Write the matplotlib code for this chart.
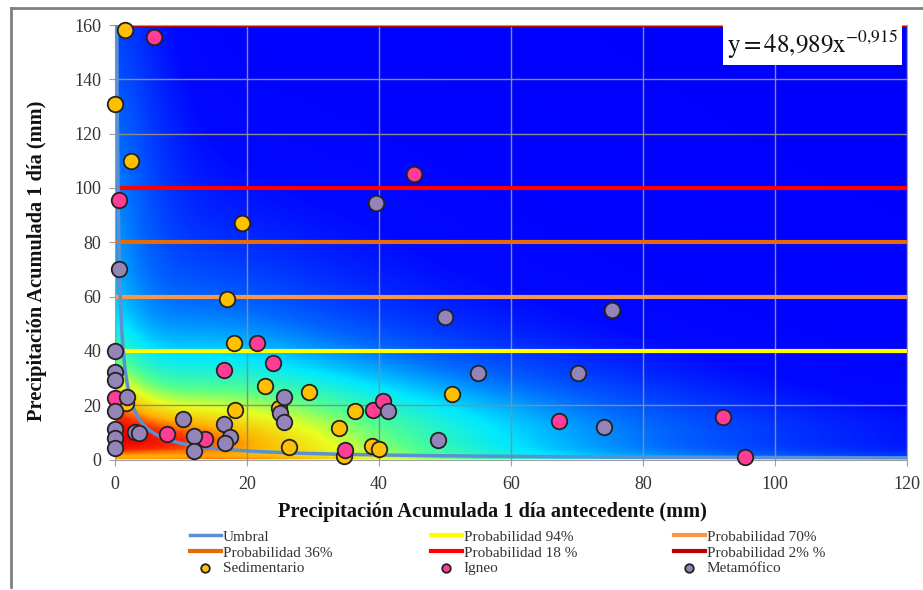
import numpy as np
import matplotlib
matplotlib.use("Agg")
import matplotlib.pyplot as plt
from matplotlib.colors import LinearSegmentedColormap
from matplotlib.lines import Line2D

# Datos
sed_x = [1.5, 0.0, 2.4, 19.2, 17.0, 18.0, 22.7, 18.2, 29.4, 26.4, 36.4, 34.0, 34.7, 39.0, 40.0, 51.0, 1.7, 24.9]
sed_y = [158, 131, 110, 87, 59, 43, 27, 18.3, 25, 4.6, 18, 11.6, 1.3, 5, 4, 24, 20.9, 19]

ign_x = [5.9, 0.6, 45.3, 21.5, 24.0, 16.5, 0.0, 7.9, 13.6, 39.1, 40.6, 34.8, 67.3, 92.1, 95.5]
ign_y = [155.7, 95.4, 105, 43, 35.4, 33, 22.8, 9.4, 7.6, 18.3, 21.6, 3.5, 14.3, 15.7, 1.0]

met_x = [39.5, 50.0, 75.3, 55.0, 70.2, 74.1, 48.9, 41.4, 0.6, 0, 0, 0, 0, 0, 0, 0,
         1.8, 3.0, 3.6, 10.3, 12.0, 12.0, 16.5, 17.4, 16.7, 25.6, 25.0, 25.6]
met_y = [94.3, 52.4, 55, 32, 31.7, 12, 7.2, 18, 70.2, 40, 32.1, 29.4, 18, 11.3, 8, 4.3,
         23.1, 10.2, 9.8, 15, 8.7, 3.1, 13.1, 8.3, 6.1, 23.1, 17.2, 13.9]

# Umbral y = a x^b
a_coef = 48.989
b_coef = -0.915

prob_labels = ["Probabilidad 94%", "Probabilidad 70%", "Probabilidad 36%", "Probabilidad 18 %", "Probabilidad 2% %"]
prob_values = [40, 60, 80, 100, 160]
prob_colors = ["#ffff00", "#f79646", "#e36c09", "#ff0000", "#c00000"]

W, H = 923, 590
fig = plt.figure(figsize=(W / 100, H / 100), dpi=100)
ax = fig.add_axes([115 / W, 1 - 459.5 / H, 792 / W, 434.5 / H])

# marco exterior
fig.add_artist(Line2D([11 / W, 11 / W], [3 / H, 1 - 8 / H], transform=fig.transFigure, color="#808080", lw=2))
fig.add_artist(Line2D([11 / W, 1], [1 - 8 / H, 1 - 8 / H], transform=fig.transFigure, color="#808080", lw=2))

# fondo: densidad de los puntos (kde en escala log, llevada a escala lineal)
px = np.array(sed_x + ign_x + met_x)
py = np.array(sed_y + ign_y + met_y)
cx, cy = 10.0, 6.0
gx = np.linspace(0, 120, 480)
gy = np.linspace(0, 160, 480)
GX, GY = np.meshgrid(gx, gy)
U = np.log(GX + cx)
V = np.log(GY + cy)
v0 = np.log(cy)
dens = np.zeros_like(GX)
bu, bv = 0.42, 0.42
for ui, vi in zip(np.log(px + cx), np.log(py + cy)):
    for mv in (vi, 2 * v0 - vi):
        dens += np.exp(-((U - ui) ** 2 / (2 * bu ** 2) + (V - mv) ** 2 / (2 * bv ** 2)))
dens = dens / ((GX + cx) * (GY + cy))
dens = (dens / dens.max()) ** 0.62
cmap = LinearSegmentedColormap.from_list(
    "calor", [(0, "#0000ff"), (0.08, "#0008ff"), (0.2, "#0068ff"), (0.33, "#00e8ff"), (0.47, "#50ff90"),
              (0.6, "#e8ff20"), (0.75, "#ffb000"), (0.88, "#ff2800"), (1, "#e80000")])
ax.imshow(dens, origin="lower", extent=[0, 120, 0, 160], aspect="auto", cmap=cmap, zorder=0, interpolation="bilinear")

ax.set_xlim(0, 120)
ax.set_ylim(0, 160)
ax.set_xticks(np.arange(0, 121, 20))
ax.set_yticks(np.arange(0, 161, 20))
ax.grid(True, color="#8c8c8c", lw=1)
for gl in ax.get_xgridlines() + ax.get_ygridlines():
    gl.set_zorder(1)
for s in ax.spines.values():
    s.set_color("#a0a0a0")
ax.tick_params(colors="#a0a0a0", length=4, labelcolor="#333333", labelsize=13)
ax.tick_params(axis="x", pad=8)
ax.tick_params(axis="y", pad=6)
for lab in ax.get_xticklabels() + ax.get_yticklabels():
    lab.set_family("Liberation Serif")

# lineas de probabilidad
handles = {}
for lab, val, col in zip(prob_labels, prob_values, prob_colors):
    handles[lab] = ax.axhline(val, color=col, lw=3, zorder=2, label=lab)

# umbral
xc = np.linspace(0.27, 120, 2000)
handles["Umbral"], = ax.plot(xc, a_coef * xc ** b_coef, color="#5b8fd6", lw=2.5, zorder=3, label="Umbral")

ms = 125
handles["Sedimentario"] = ax.scatter(sed_x, sed_y, s=ms, c="#ffc000", edgecolors="#222222", linewidths=1.3, zorder=4, label="Sedimentario")
handles["Igneo"] = ax.scatter(ign_x, ign_y, s=ms, c="#ff3d96", edgecolors="#222222", linewidths=1.3, zorder=5, label="Igneo")
handles["Metamófico"] = ax.scatter(met_x, met_y, s=ms, c="#9484b8", edgecolors="#222222", linewidths=1.3, zorder=6, label="Metamófico")
for h in (handles["Sedimentario"], handles["Igneo"], handles["Metamófico"]):
    h.set_clip_on(False)

ax.set_xlabel("Precipitación Acumulada 1 día antecedente (mm)", family="Liberation Serif",
              fontsize=14.7, fontweight="bold", color="#111111")
ax.xaxis.set_label_coords(0.476, -0.098)
ax.set_ylabel("Precipitación Acumulada 1 día (mm)", family="Liberation Serif",
              fontsize=14.7, fontweight="bold", color="#111111")
ax.yaxis.set_label_coords(-0.086, 0.457)

# ecuacion
plt.rcParams["mathtext.fontset"] = "stix"
ax.text(0.9887, 0.992, r"$\mathrm{y = 48{,}989x^{-0{,}915}}$", transform=ax.transAxes, ha="right", va="top",
        fontsize=18, color="#111111", zorder=10,
        bbox=dict(boxstyle="square,pad=0.16", facecolor="white", edgecolor="none"))

# leyenda en tres columnas
columns = [["Umbral", "Probabilidad 36%", "Sedimentario"],
           ["Probabilidad 94%", "Probabilidad 18 %", "Igneo"],
           ["Probabilidad 70%", "Probabilidad 2% %", "Metamófico"]]
col_x = [190, 431, 674]
for names, cx_leg in zip(columns, col_x):
    leg = fig.legend([handles[k] for k in names], names, loc="upper left", bbox_to_anchor=(cx_leg / W, 1 - 530 / H),
                     ncol=1, frameon=False, prop={"family": "Liberation Serif", "size": 11},
                     handlelength=2.0, handletextpad=0.15, labelspacing=0.14,
                     borderaxespad=0, borderpad=0, markerscale=0.55)
    for t in leg.get_texts():
        t.set_color("#333333")

fig.savefig("out.png", dpi=100)
